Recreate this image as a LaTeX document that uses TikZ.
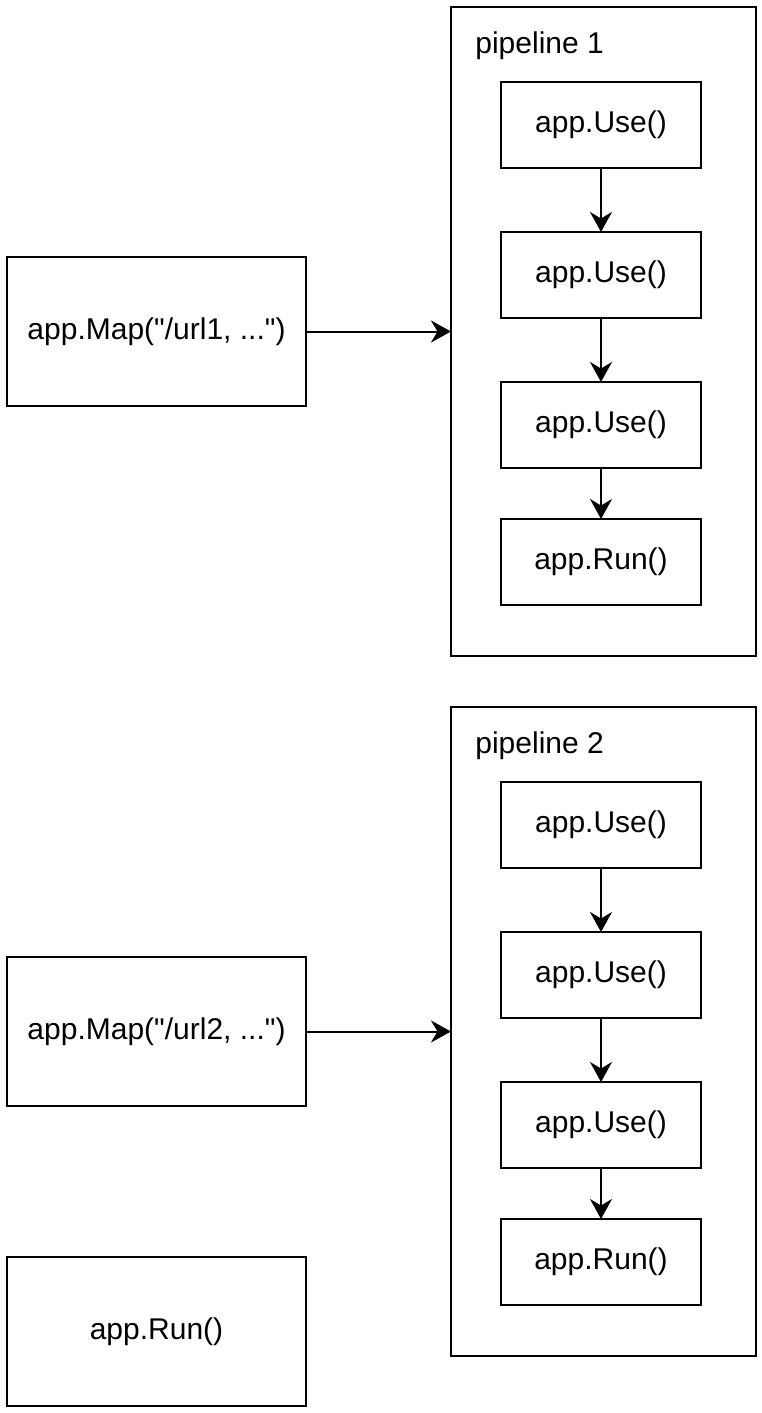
\documentclass[tikz,border=0pt]{standalone}
\usepackage{fontspec}
\setmainfont{Liberation Sans}[Ligatures=TeXOff]
\usepackage{tikz}
\usetikzlibrary{arrows.meta,positioning}

\begin{document}
\begin{tikzpicture}[x=0.5pt, y=-0.5pt, node distance=32pt,
    every node/.style={font=\fontsize{15}{18}\selectfont},
    stagebox/.style={rectangle, draw, line width=1pt, outer sep=0pt, inner sep=0pt, minimum width=100pt, minimum height=43pt},
    callbox/.style={rectangle, draw, line width=1pt, outer sep=0pt, inner sep=0pt, minimum width=149.5pt, minimum height=74.5pt},
    pipebox/.style={rectangle, draw, line width=1pt, outer sep=0pt, inner sep=0pt, minimum width=152.5pt, minimum height=324.5pt},
    flow/.style={-{Stealth[length=10pt, width=11pt]}, line width=1pt}]
    \useasboundingbox (0,0) rectangle (761,1413);

    % Pipeline 1
    \node[pipebox] (pipe_one) at (603.5,331.5) {};
    \node[anchor=west, inner sep=0pt] (pipe_one_label) at (475,46) {pipeline 1};
    \node[stagebox] (use_one_a) at (601,125) {app.Use()};
    \node[stagebox, below=of use_one_a] (use_one_b) {app.Use()};
    \node[stagebox, below=of use_one_b] (use_one_c) {app.Use()};
    \node[stagebox, below=25.5pt of use_one_c] (run_one) {app.Run()};
    \node[callbox] (map_one) at (156.5,331.5) {app.Map("/url1, ...")};

    % Pipeline 2
    \node[pipebox] (pipe_two) at (603.5,1031.5) {};
    \node[anchor=west, inner sep=0pt] (pipe_two_label) at (475,746) {pipeline 2};
    \node[stagebox] (use_two_a) at (601,825) {app.Use()};
    \node[stagebox, below=of use_two_a] (use_two_b) {app.Use()};
    \node[stagebox, below=of use_two_b] (use_two_c) {app.Use()};
    \node[stagebox, below=25.5pt of use_two_c] (run_two) {app.Run()};
    \node[callbox] (map_two) at (156.5,1031.5) {app.Map("/url2, ...")};

    % Terminal
    \node[callbox] (run_main) at (156.5,1331.5) {app.Run()};

    % Flow
    \draw[flow] (map_one) -- (pipe_one);
    \draw[flow] (use_one_a) -- (use_one_b);
    \draw[flow] (use_one_b) -- (use_one_c);
    \draw[flow] (use_one_c) -- (run_one);
    \draw[flow] (map_two) -- (pipe_two);
    \draw[flow] (use_two_a) -- (use_two_b);
    \draw[flow] (use_two_b) -- (use_two_c);
    \draw[flow] (use_two_c) -- (run_two);
\end{tikzpicture}
\end{document}
